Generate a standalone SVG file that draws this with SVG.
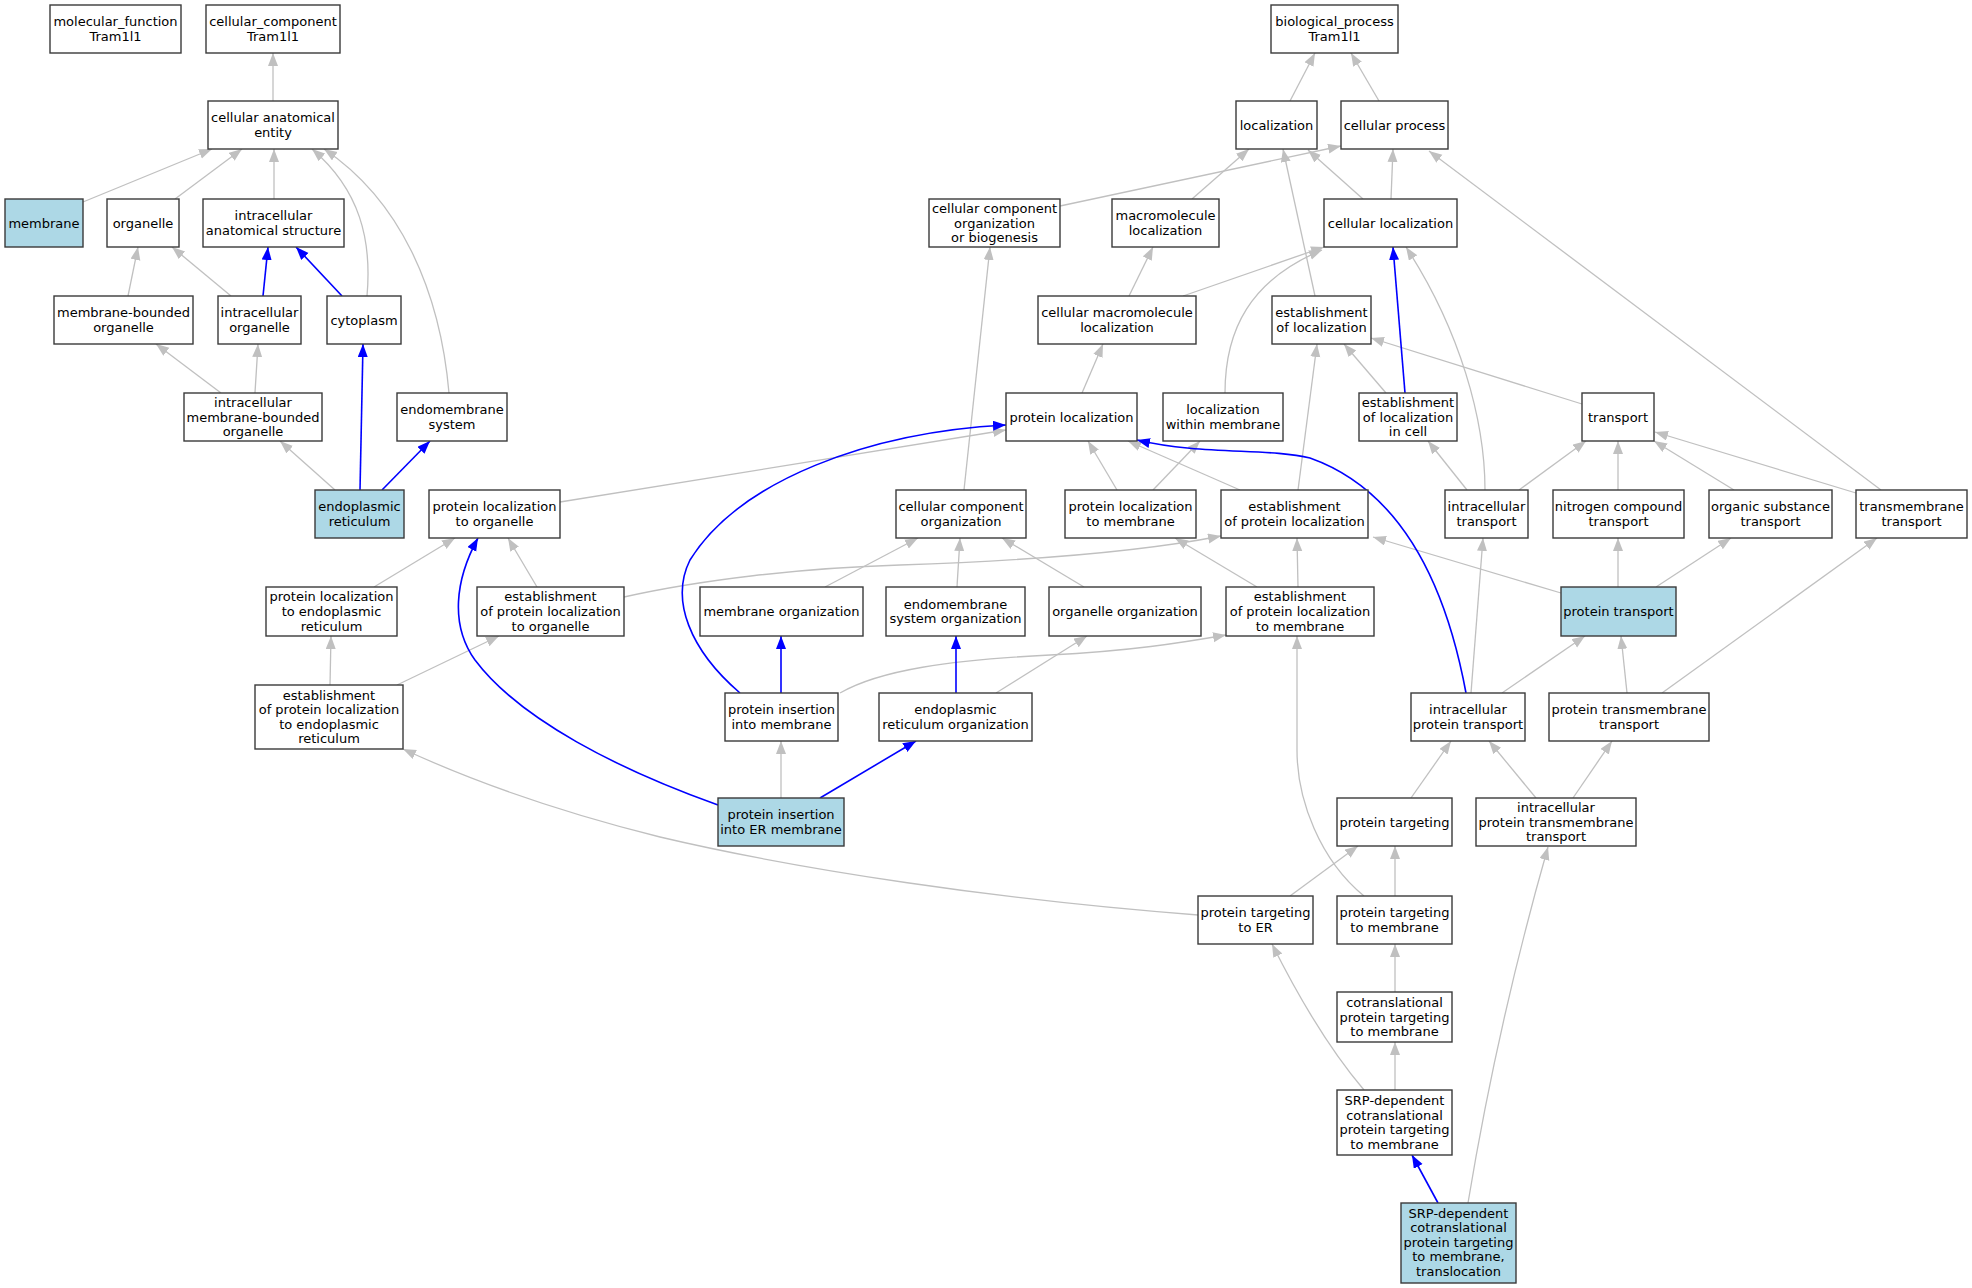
<svg xmlns="http://www.w3.org/2000/svg" width="1972" height="1288" viewBox="0 0 1972 1288">
<defs>
<style>
.n rect{fill:#ffffff;stroke:#3a3a3a;stroke-width:1.4}
.n.h rect{fill:#add8e6}
.n text{font-family:"DejaVu Sans","Liberation Sans",sans-serif;font-size:13px;fill:#000;text-anchor:middle}
.e{fill:none;stroke:#c0c0c0;stroke-width:1.3;marker-end:url(#ag)}
.b{fill:none;stroke:#0000ff;stroke-width:1.6;marker-end:url(#ab)}
</style>
<marker id="ag" markerWidth="14" markerHeight="11" refX="13" refY="5" orient="auto" markerUnits="userSpaceOnUse"><path d="M0,0 L13,5 L0,10 z" fill="#c0c0c0"/></marker>
<marker id="ab" markerWidth="14" markerHeight="11" refX="13" refY="5" orient="auto" markerUnits="userSpaceOnUse"><path d="M0,0 L13,5 L0,10 z" fill="#0000ff"/></marker>
</defs>
<rect width="1972" height="1288" fill="#ffffff"/>
<g id="edges">
<path class="e" d="M273,101 L273,53"/>
<path class="e" d="M83,202 L212,149"/>
<path class="e" d="M175,199 L242,149"/>
<path class="e" d="M274,199 L274,149"/>
<path class="e" d="M367,296 C372,240 360,190 312,149"/>
<path class="e" d="M449,393 C440,290 400,200 324,149"/>
<path class="e" d="M128,296 L138,247"/>
<path class="e" d="M231,296 L172,247"/>
<path class="e" d="M221,393 L156,344"/>
<path class="e" d="M255,393 L258,344"/>
<path class="e" d="M335,490 L280,441"/>
<path class="e" d="M560,502 L1006,430"/>
<path class="e" d="M374,587 L455,538"/>
<path class="e" d="M537,587 L508,538"/>
<path class="e" d="M624,597 C700,580 800,568 900,565 C1050,560 1150,550 1221,536"/>
<path class="e" d="M330,685 L331,636"/>
<path class="e" d="M397,685 L499,636"/>
<path class="e" d="M1198,915 C1000,900 800,870 660,837 C560,812 470,780 403,749"/>
<path class="e" d="M1060,206 L1341,146"/>
<path class="e" d="M1192,199 L1249,149"/>
<path class="e" d="M1363,199 L1308,150"/>
<path class="e" d="M1391,199 L1393,149"/>
<path class="e" d="M1290,101 L1315,53"/>
<path class="e" d="M1379,101 L1351,53"/>
<path class="e" d="M1315,296 L1283,149"/>
<path class="e" d="M1129,296 L1153,247"/>
<path class="e" d="M1183,296 L1324,247"/>
<path class="e" d="M1225,393 C1225,330 1250,280 1322,250"/>
<path class="e" d="M1082,393 L1103,344"/>
<path class="e" d="M1386,393 L1344,344"/>
<path class="e" d="M1582,404 L1371,338"/>
<path class="e" d="M1485,490 C1485,420 1460,330 1406,247"/>
<path class="e" d="M1467,490 L1428,441"/>
<path class="e" d="M1519,490 L1586,441"/>
<path class="e" d="M1618,490 L1618,441"/>
<path class="e" d="M1734,490 L1654,441"/>
<path class="e" d="M1856,493 L1655,432"/>
<path class="e" d="M1881,490 L1429,151"/>
<path class="e" d="M1298,490 L1317,344"/>
<path class="e" d="M1240,490 L1128,441"/>
<path class="e" d="M1117,490 L1088,441"/>
<path class="e" d="M1153,490 L1200,441"/>
<path class="e" d="M964,490 L990,247"/>
<path class="e" d="M825,587 L918,538"/>
<path class="e" d="M957,587 L960,538"/>
<path class="e" d="M1084,587 L1002,538"/>
<path class="e" d="M1257,587 L1175,538"/>
<path class="e" d="M1298,587 L1297,538"/>
<path class="e" d="M1561,593 L1373,537"/>
<path class="e" d="M1618,587 L1618,538"/>
<path class="e" d="M1656,587 L1731,538"/>
<path class="e" d="M840,693 C880,670 950,660 1050,655 C1130,651 1180,643 1226,635"/>
<path class="e" d="M996,693 L1087,636"/>
<path class="e" d="M781,798 L781,741"/>
<path class="e" d="M1502,693 L1585,636"/>
<path class="e" d="M1471,693 L1483,538"/>
<path class="e" d="M1627,693 L1621,636"/>
<path class="e" d="M1662,693 L1877,538"/>
<path class="e" d="M1411,798 L1451,741"/>
<path class="e" d="M1536,798 L1489,741"/>
<path class="e" d="M1573,798 L1612,741"/>
<path class="e" d="M1290,896 L1358,846"/>
<path class="e" d="M1395,896 L1395,846"/>
<path class="e" d="M1364,896 C1320,860 1297,800 1297,750 L1297,636"/>
<path class="e" d="M1395,992 L1395,944"/>
<path class="e" d="M1395,1090 L1395,1042"/>
<path class="e" d="M1364,1090 C1330,1050 1300,1000 1272,944"/>
<path class="e" d="M1468,1203 C1485,1100 1510,980 1548,847"/>
<path class="b" d="M263,296 L268,247"/>
<path class="b" d="M342,296 L296,247"/>
<path class="b" d="M360,490 L363,344"/>
<path class="b" d="M382,490 L430,441"/>
<path class="b" d="M718,805 C620,770 520,720 475,660 C450,625 455,580 478,538"/>
<path class="b" d="M1405,393 L1393,247"/>
<path class="b" d="M1466,693 C1445,580 1400,490 1310,458 C1270,448 1200,455 1137,440"/>
<path class="b" d="M781,693 L781,636"/>
<path class="b" d="M740,693 C690,650 670,600 690,560 C740,480 870,432 1006,425"/>
<path class="b" d="M956,693 L956,636"/>
<path class="b" d="M820,798 L916,741"/>
<path class="b" d="M1438,1203 L1412,1155"/>
</g>
<g id="n1" class="n"><rect x="50" y="5" width="131" height="48"/><text x="115.5" y="26.2">molecular_function<tspan x="115.5" dy="14.6">Tram1l1</tspan></text></g>
<g id="n2" class="n"><rect x="206" y="5" width="134" height="48"/><text x="273" y="26.2">cellular_component<tspan x="273" dy="14.6">Tram1l1</tspan></text></g>
<g id="n3" class="n"><rect x="1271" y="5" width="127" height="48"/><text x="1334.5" y="26.2">biological_process<tspan x="1334.5" dy="14.6">Tram1l1</tspan></text></g>
<g id="n4" class="n"><rect x="208" y="101" width="130" height="48"/><text x="273" y="122.2">cellular anatomical<tspan x="273" dy="14.6">entity</tspan></text></g>
<g id="n5" class="n"><rect x="1236" y="101" width="81" height="48"/><text x="1276.5" y="129.5">localization</text></g>
<g id="n6" class="n"><rect x="1341" y="101" width="107" height="48"/><text x="1394.5" y="129.5">cellular process</text></g>
<g id="n7" class="n h"><rect x="5" y="199" width="78" height="48"/><text x="44" y="227.5">membrane</text></g>
<g id="n8" class="n"><rect x="107" y="199" width="72" height="48"/><text x="143" y="227.5">organelle</text></g>
<g id="n9" class="n"><rect x="203" y="199" width="141" height="48"/><text x="273.5" y="220.2">intracellular<tspan x="273.5" dy="14.6">anatomical structure</tspan></text></g>
<g id="n10" class="n"><rect x="929" y="199" width="131" height="48"/><text x="994.5" y="212.9">cellular component<tspan x="994.5" dy="14.6">organization</tspan><tspan x="994.5" dy="14.6">or biogenesis</tspan></text></g>
<g id="n11" class="n"><rect x="1112" y="199" width="107" height="48"/><text x="1165.5" y="220.2">macromolecule<tspan x="1165.5" dy="14.6">localization</tspan></text></g>
<g id="n12" class="n"><rect x="1324" y="199" width="133" height="48"/><text x="1390.5" y="227.5">cellular localization</text></g>
<g id="n13" class="n"><rect x="54" y="296" width="139" height="48"/><text x="123.5" y="317.2">membrane-bounded<tspan x="123.5" dy="14.6">organelle</tspan></text></g>
<g id="n14" class="n"><rect x="218" y="296" width="83" height="48"/><text x="259.5" y="317.2">intracellular<tspan x="259.5" dy="14.6">organelle</tspan></text></g>
<g id="n15" class="n"><rect x="327" y="296" width="74" height="48"/><text x="364" y="324.5">cytoplasm</text></g>
<g id="n16" class="n"><rect x="1038" y="296" width="158" height="48"/><text x="1117" y="317.2">cellular macromolecule<tspan x="1117" dy="14.6">localization</tspan></text></g>
<g id="n17" class="n"><rect x="1272" y="296" width="99" height="48"/><text x="1321.5" y="317.2">establishment<tspan x="1321.5" dy="14.6">of localization</tspan></text></g>
<g id="n18" class="n"><rect x="184" y="393" width="138" height="48"/><text x="253" y="406.9">intracellular<tspan x="253" dy="14.6">membrane-bounded</tspan><tspan x="253" dy="14.6">organelle</tspan></text></g>
<g id="n19" class="n"><rect x="397" y="393" width="110" height="48"/><text x="452" y="414.2">endomembrane<tspan x="452" dy="14.6">system</tspan></text></g>
<g id="n20" class="n"><rect x="1006" y="393" width="131" height="48"/><text x="1071.5" y="421.5">protein localization</text></g>
<g id="n21" class="n"><rect x="1163" y="393" width="120" height="48"/><text x="1223" y="414.2">localization<tspan x="1223" dy="14.6">within membrane</tspan></text></g>
<g id="n22" class="n"><rect x="1359" y="393" width="98" height="48"/><text x="1408" y="406.9">establishment<tspan x="1408" dy="14.6">of localization</tspan><tspan x="1408" dy="14.6">in cell</tspan></text></g>
<g id="n23" class="n"><rect x="1582" y="393" width="72" height="48"/><text x="1618" y="421.5">transport</text></g>
<g id="n24" class="n h"><rect x="315" y="490" width="89" height="48"/><text x="359.5" y="511.2">endoplasmic<tspan x="359.5" dy="14.6">reticulum</tspan></text></g>
<g id="n25" class="n"><rect x="429" y="490" width="131" height="48"/><text x="494.5" y="511.2">protein localization<tspan x="494.5" dy="14.6">to organelle</tspan></text></g>
<g id="n26" class="n"><rect x="896" y="490" width="130" height="48"/><text x="961" y="511.2">cellular component<tspan x="961" dy="14.6">organization</tspan></text></g>
<g id="n27" class="n"><rect x="1065" y="490" width="131" height="48"/><text x="1130.5" y="511.2">protein localization<tspan x="1130.5" dy="14.6">to membrane</tspan></text></g>
<g id="n28" class="n"><rect x="1221" y="490" width="147" height="48"/><text x="1294.5" y="511.2">establishment<tspan x="1294.5" dy="14.6">of protein localization</tspan></text></g>
<g id="n29" class="n"><rect x="1445" y="490" width="83" height="48"/><text x="1486.5" y="511.2">intracellular<tspan x="1486.5" dy="14.6">transport</tspan></text></g>
<g id="n30" class="n"><rect x="1553" y="490" width="131" height="48"/><text x="1618.5" y="511.2">nitrogen compound<tspan x="1618.5" dy="14.6">transport</tspan></text></g>
<g id="n31" class="n"><rect x="1709" y="490" width="123" height="48"/><text x="1770.5" y="511.2">organic substance<tspan x="1770.5" dy="14.6">transport</tspan></text></g>
<g id="n32" class="n"><rect x="1856" y="490" width="111" height="48"/><text x="1911.5" y="511.2">transmembrane<tspan x="1911.5" dy="14.6">transport</tspan></text></g>
<g id="n33" class="n"><rect x="266" y="587" width="131" height="49"/><text x="331.5" y="601.4">protein localization<tspan x="331.5" dy="14.6">to endoplasmic</tspan><tspan x="331.5" dy="14.6">reticulum</tspan></text></g>
<g id="n34" class="n"><rect x="477" y="587" width="147" height="49"/><text x="550.5" y="601.4">establishment<tspan x="550.5" dy="14.6">of protein localization</tspan><tspan x="550.5" dy="14.6">to organelle</tspan></text></g>
<g id="n35" class="n"><rect x="700" y="587" width="163" height="49"/><text x="781.5" y="616">membrane organization</text></g>
<g id="n36" class="n"><rect x="886" y="587" width="139" height="49"/><text x="955.5" y="608.7">endomembrane<tspan x="955.5" dy="14.6">system organization</tspan></text></g>
<g id="n37" class="n"><rect x="1049" y="587" width="152" height="49"/><text x="1125" y="616">organelle organization</text></g>
<g id="n38" class="n"><rect x="1226" y="587" width="148" height="49"/><text x="1300" y="601.4">establishment<tspan x="1300" dy="14.6">of protein localization</tspan><tspan x="1300" dy="14.6">to membrane</tspan></text></g>
<g id="n39" class="n h"><rect x="1561" y="587" width="115" height="49"/><text x="1618.5" y="616">protein transport</text></g>
<g id="n40" class="n"><rect x="255" y="685" width="148" height="64"/><text x="329" y="699.6">establishment<tspan x="329" dy="14.6">of protein localization</tspan><tspan x="329" dy="14.6">to endoplasmic</tspan><tspan x="329" dy="14.6">reticulum</tspan></text></g>
<g id="n41" class="n"><rect x="725" y="693" width="113" height="48"/><text x="781.5" y="714.2">protein insertion<tspan x="781.5" dy="14.6">into membrane</tspan></text></g>
<g id="n42" class="n"><rect x="879" y="693" width="153" height="48"/><text x="955.5" y="714.2">endoplasmic<tspan x="955.5" dy="14.6">reticulum organization</tspan></text></g>
<g id="n43" class="n"><rect x="1411" y="693" width="114" height="48"/><text x="1468" y="714.2">intracellular<tspan x="1468" dy="14.6">protein transport</tspan></text></g>
<g id="n44" class="n"><rect x="1549" y="693" width="160" height="48"/><text x="1629" y="714.2">protein transmembrane<tspan x="1629" dy="14.6">transport</tspan></text></g>
<g id="n45" class="n h"><rect x="718" y="798" width="126" height="48"/><text x="781" y="819.2">protein insertion<tspan x="781" dy="14.6">into ER membrane</tspan></text></g>
<g id="n46" class="n"><rect x="1337" y="798" width="115" height="48"/><text x="1394.5" y="826.5">protein targeting</text></g>
<g id="n47" class="n"><rect x="1476" y="798" width="160" height="48"/><text x="1556" y="811.9">intracellular<tspan x="1556" dy="14.6">protein transmembrane</tspan><tspan x="1556" dy="14.6">transport</tspan></text></g>
<g id="n48" class="n"><rect x="1198" y="896" width="115" height="48"/><text x="1255.5" y="917.2">protein targeting<tspan x="1255.5" dy="14.6">to ER</tspan></text></g>
<g id="n49" class="n"><rect x="1337" y="896" width="115" height="48"/><text x="1394.5" y="917.2">protein targeting<tspan x="1394.5" dy="14.6">to membrane</tspan></text></g>
<g id="n50" class="n"><rect x="1337" y="992" width="115" height="50"/><text x="1394.5" y="1006.9">cotranslational<tspan x="1394.5" dy="14.6">protein targeting</tspan><tspan x="1394.5" dy="14.6">to membrane</tspan></text></g>
<g id="n51" class="n"><rect x="1337" y="1090" width="115" height="65"/><text x="1394.5" y="1105.1">SRP-dependent<tspan x="1394.5" dy="14.6">cotranslational</tspan><tspan x="1394.5" dy="14.6">protein targeting</tspan><tspan x="1394.5" dy="14.6">to membrane</tspan></text></g>
<g id="n52" class="n h"><rect x="1401" y="1203" width="115" height="80"/><text x="1458.5" y="1217.5">SRP-dependent<tspan x="1458.5" dy="14.6">cotranslational</tspan><tspan x="1458.5" dy="14.6">protein targeting</tspan><tspan x="1458.5" dy="14.6">to membrane,</tspan><tspan x="1458.5" dy="14.6">translocation</tspan></text></g>
</svg>
